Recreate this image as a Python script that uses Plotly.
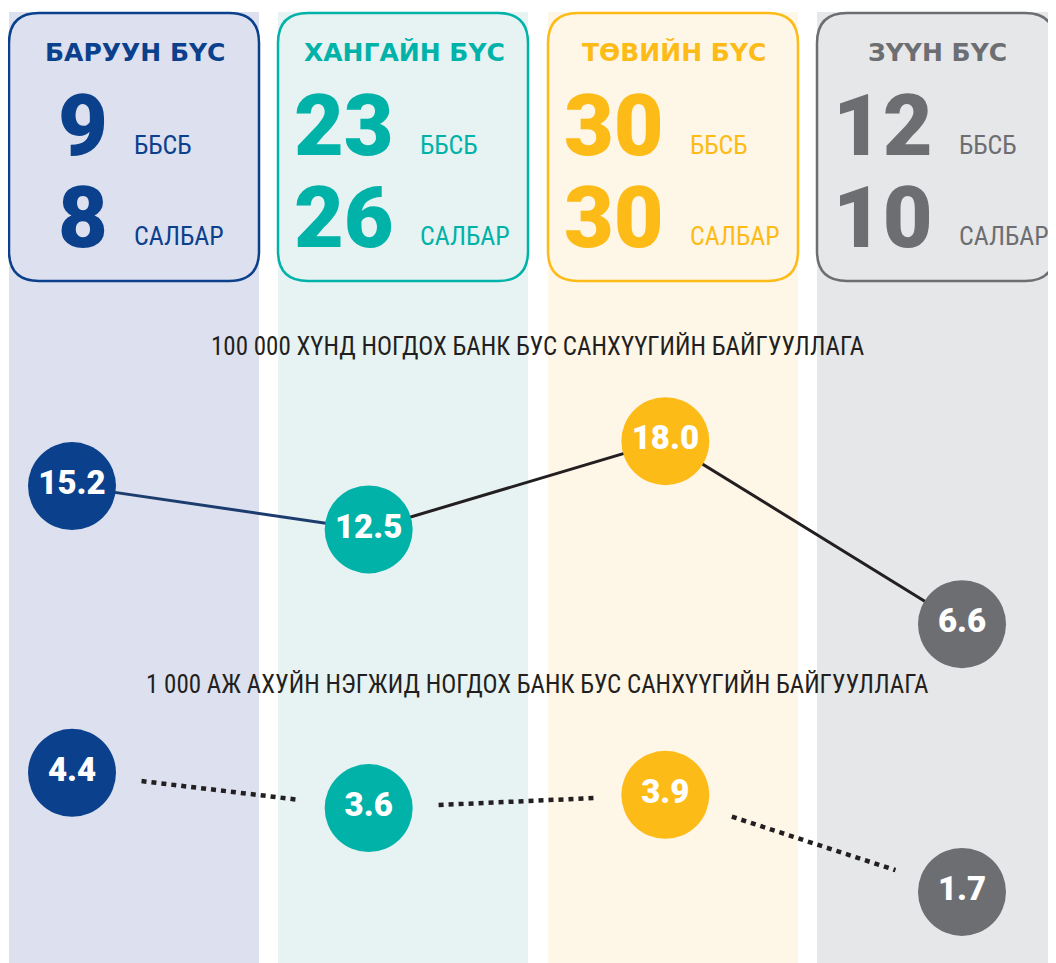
import math
import plotly.graph_objects as go

# --- data ---
REGIONS = ["БАРУУН БҮС", "ХАНГАЙН БҮС", "ТӨВИЙН БҮС", "ЗҮҮН БҮС"]
NBFI_COUNT = [9, 23, 30, 12]
BRANCH_COUNT = [8, 26, 30, 10]
PER_100K_PEOPLE = [15.2, 12.5, 18.0, 6.6]
PER_1000_ENTITIES = [4.4, 3.6, 3.9, 1.7]
LABEL_NBFI = "ББСБ"
LABEL_BRANCH = "САЛБАР"
TITLE_UPPER = "100 000 ХҮНД НОГДОХ БАНК БУС САНХҮҮГИЙН БАЙГУУЛЛАГА"
TITLE_LOWER = "1 000 АЖ АХУЙН НЭГЖИД НОГДОХ БАНК БУС САНХҮҮГИЙН БАЙГУУЛЛАГА"

# --- styling / layout ---
W, H = 1056, 963          # browser window
OFF = 8                   # page body margin, the figure starts here
FW, FH = W - OFF, H - OFF
MAIN = ["#0B408C", "#00B2A8", "#FDBB18", "#6D6E72"]
BG = ["#DDE1EF", "#E7F3F3", "#FEF6E7", "#E6E7E9"]
INK = "#231F20"
NAVY_LINE = "#1D3C6E"
COL_LEFT = [9, 278, 548, 817]
COL_W = 250
BOX_W = [250, 250, 250, 238]
BOX_TOP, BOX_BOT, BOX_R = 13, 281, 30
LABEL_FONT = "Liberation Sans Narrow, Roboto Condensed, Arial Narrow, sans-serif"

CIRCLE_D = 88
X_FIRST_PX, X_LAST_PX = 72, 962
UPPER_BAND = (380, 660)      # page px from top
UPPER_RANGE = (4.37, 21.81)
LOWER_BAND = (700, 963)
LOWER_RANGE = (0.09, 6.05)

x_scale = (X_LAST_PX - X_FIRST_PX) / 3
x_range = [-(X_FIRST_PX - OFF) / x_scale, (FW - (X_FIRST_PX - OFF)) / x_scale]


def px(x):
    return (x - OFF) / FW


def py(y):
    return 1 - (y - OFF) / FH


def to_px(i, v, band, rng):
    xp = (i - x_range[0]) * x_scale
    yp = band[0] + (rng[1] - v) / (rng[1] - rng[0]) * (band[1] - band[0])
    return xp, yp


def from_px(xp, yp, band, rng):
    i = xp / x_scale + x_range[0]
    v = rng[1] - (yp - band[0]) / (band[1] - band[0]) * (rng[1] - rng[0])
    return i, v


def gapped_segments(values, band, rng, gap):
    xs, ys = [], []
    for i in range(len(values) - 1):
        x0, y0 = to_px(i, values[i], band, rng)
        x1, y1 = to_px(i + 1, values[i + 1], band, rng)
        d = math.hypot(x1 - x0, y1 - y0)
        ux, uy = (x1 - x0) / d, (y1 - y0) / d
        a = from_px(x0 + ux * gap, y0 + uy * gap, band, rng)
        b = from_px(x1 - ux * gap, y1 - uy * gap, band, rng)
        xs += [a[0], b[0], None]
        ys += [a[1], b[1], None]
    return xs, ys


def rounded_rect(x0, y0, x1, y1, r):
    X0, X1, Y0, Y1 = px(x0), px(x1), py(y0), py(y1)
    rx, ry = r / FW, r / FH
    return (f"M {X0 + rx},{Y0} L {X1 - rx},{Y0} Q {X1},{Y0} {X1},{Y0 - ry} "
            f"L {X1},{Y1 + ry} Q {X1},{Y1} {X1 - rx},{Y1} "
            f"L {X0 + rx},{Y1} Q {X0},{Y1} {X0},{Y1 + ry} "
            f"L {X0},{Y0 - ry} Q {X0},{Y0} {X0 + rx},{Y0} Z")


idx = list(range(len(REGIONS)))
fig = go.Figure()

# upper series: solid connectors (first one navy, rest black)
fig.add_trace(go.Scatter(x=idx[:2], y=PER_100K_PEOPLE[:2], mode="lines",
                         line=dict(color=NAVY_LINE, width=3), yaxis="y",
                         cliponaxis=False, hoverinfo="skip"))
fig.add_trace(go.Scatter(x=idx[1:], y=PER_100K_PEOPLE[1:], mode="lines",
                         line=dict(color=INK, width=3), yaxis="y",
                         cliponaxis=False, hoverinfo="skip"))

# lower series: dotted connectors with gaps around circles
lx, ly = gapped_segments(PER_1000_ENTITIES, LOWER_BAND, LOWER_RANGE, CIRCLE_D / 2 + 26)
fig.add_trace(go.Scatter(x=lx, y=ly, mode="lines",
                         line=dict(color=INK, width=4.5, dash="5px,5px"), yaxis="y2",
                         cliponaxis=False, hoverinfo="skip"))

for vals, ax in [(PER_100K_PEOPLE, "y"), (PER_1000_ENTITIES, "y2")]:
    fig.add_trace(go.Scatter(
        x=idx, y=vals, yaxis=ax, mode="markers+text",
        marker=dict(size=CIRCLE_D, color=MAIN, line=dict(width=0)),
        text=[f"{v:.1f}" for v in vals], textposition="middle center",
        textfont=dict(family="Roboto", size=33, color="white", weight=900),
        cliponaxis=False, hoverinfo="skip"))

shapes = []
annotations = []
for i, region in enumerate(REGIONS):
    left = COL_LEFT[i]
    shapes.append(dict(type="rect", xref="paper", yref="paper", layer="below",
                       x0=px(left), x1=px(left + COL_W), y0=py(H), y1=py(12),
                       fillcolor=BG[i], line=dict(width=0)))
    shapes.append(dict(type="path", xref="paper", yref="paper", layer="below",
                       path=rounded_rect(left, BOX_TOP, left + BOX_W[i], BOX_BOT, BOX_R),
                       line=dict(color=MAIN[i], width=2.5)))
    annotations.append(dict(x=px(left + BOX_W[i] / 2 + 1), y=py(53), text=region,
                            xref="paper", yref="paper", showarrow=False,
                            xanchor="center", yanchor="middle",
                            font=dict(family="DejaVu Sans", size=25, color=MAIN[i], weight="bold")))
    for n, lab, yc, yl in [(NBFI_COUNT[i], LABEL_NBFI, 126, 145),
                           (BRANCH_COUNT[i], LABEL_BRANCH, 217, 236)]:
        num_right = left + (101 if len(str(n)) == 1 else 118)
        annotations.append(dict(x=px(num_right), y=py(yc), text=str(n),
                                xref="paper", yref="paper", showarrow=False,
                                xanchor="right", yanchor="middle",
                                font=dict(family="Roboto", size=86, color=MAIN[i], weight=900)))
        annotations.append(dict(x=px(num_right + 22), y=py(yl), text=lab,
                                xref="paper", yref="paper", showarrow=False,
                                xanchor="left", yanchor="middle",
                                font=dict(family=LABEL_FONT, size=26, color=MAIN[i])))

for txt, yc in [(TITLE_UPPER, 346), (TITLE_LOWER, 684)]:
    annotations.append(dict(x=px(537), y=py(yc), text=txt, xref="paper", yref="paper",
                            showarrow=False, xanchor="center", yanchor="middle",
                            font=dict(family=LABEL_FONT, size=25, color=INK)))

fig.update_layout(
    width=FW, height=FH, margin=dict(l=0, r=0, t=0, b=0),
    paper_bgcolor="white", plot_bgcolor="rgba(0,0,0,0)",
    showlegend=False, shapes=shapes, annotations=annotations,
    xaxis=dict(range=x_range, domain=[0, 1], visible=False, fixedrange=True),
    yaxis=dict(range=list(UPPER_RANGE), domain=[py(UPPER_BAND[1]), py(UPPER_BAND[0])],
               visible=False, fixedrange=True),
    yaxis2=dict(range=list(LOWER_RANGE), domain=[max(0, py(LOWER_BAND[1])), py(LOWER_BAND[0])],
                visible=False, fixedrange=True, anchor="x"),
)

fig.write_html("out.html")
